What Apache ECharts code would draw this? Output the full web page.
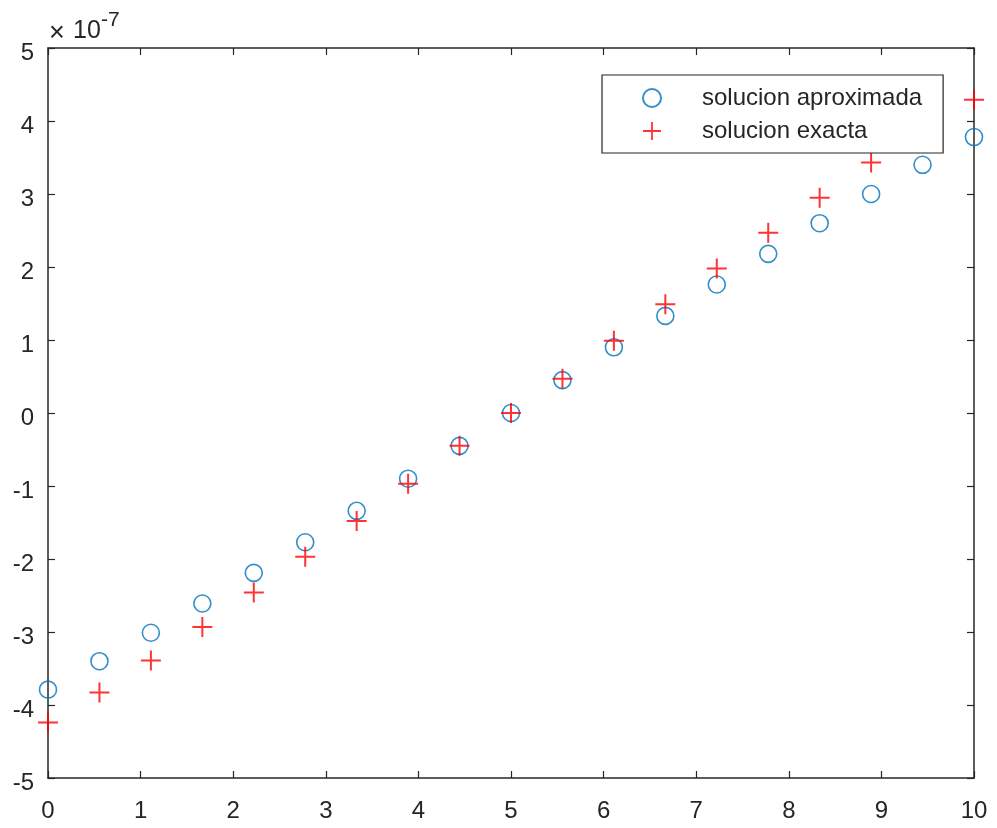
<!DOCTYPE html>
<html>
<head>
<meta charset="utf-8">
<script src="https://cdn.jsdelivr.net/npm/echarts@6/dist/echarts.min.js"></script>
<style>html,body{margin:0;padding:0;background:#fff;}#c{width:997px;height:828px;}</style>
</head>
<body>
<div id="c"></div>
<script>
// x positions (0 .. 10, 19 points)
const xValues = [0, 0.5556, 1.1111, 1.6667, 2.2222, 2.7778, 3.3333, 3.8889, 4.4444, 5, 5.5556, 6.1111, 6.6667, 7.2222, 7.7778, 8.3333, 8.8889, 9.4444, 10];
// values in units of 1e-7
const aproximada = [-3.79, -3.40, -3.01, -2.61, -2.19, -1.77, -1.34, -0.90, -0.45, 0, 0.45, 0.90, 1.33, 1.76, 2.18, 2.60, 3.00, 3.40, 3.78];
const exacta = [-4.24, -3.83, -3.39, -2.93, -2.46, -1.97, -1.48, -0.97, -0.45, 0, 0.47, 0.99, 1.49, 1.98, 2.47, 2.95, 3.43, 3.86, 4.29];
const xTicks = [0,1,2,3,4,5,6,7,8,9,10];
const yTicks = [-5,-4,-3,-2,-1,0,1,2,3,4,5];
const seriesNames = ['solucion aproximada', 'solucion exacta'];

const axisColor = '#262626';
const font = 'Liberation Sans, Arial, Helvetica, sans-serif';
const crossPath = 'path://M9,0h2v9h9v2h-9v9h-2v-9h-9v-2h9z';

const chart = echarts.init(document.getElementById('c'));
const baseX = {
  type: 'value', min: xTicks[0], max: xTicks[xTicks.length-1], interval: 1,
  axisLine: {show: true, onZero: false, lineStyle: {color: axisColor, width: 1.5}},
  axisTick: {show: true, inside: true, length: 7, lineStyle: {color: axisColor, width: 1.2}},
  splitLine: {show: false}
};
const baseY = {
  type: 'value', min: yTicks[0], max: yTicks[yTicks.length-1], interval: 1,
  axisLine: {show: true, onZero: false, lineStyle: {color: axisColor, width: 1.5}},
  axisTick: {show: true, inside: true, length: 7, lineStyle: {color: axisColor, width: 1.2}},
  splitLine: {show: false}
};
chart.setOption({
  backgroundColor: '#fff',
  animation: false,
  grid: {left: 48, right: 23, top: 48, bottom: 50},
  xAxis: [
    Object.assign({}, baseX, {position: 'bottom', axisLabel: {show: true, color: axisColor, fontSize: 24, fontFamily: font, margin: 21}}),
    Object.assign({}, baseX, {position: 'top', axisLabel: {show: false}})
  ],
  yAxis: [
    Object.assign({}, baseY, {position: 'left', axisLabel: {
      show: true, color: axisColor, fontSize: 24, fontFamily: font, margin: 14,
      formatter: v => '{a|' + v + '}',
      rich: {a: {color: axisColor, fontSize: 24, fontFamily: font, padding: [10, 0, 0, 0]}}
    }}),
    Object.assign({}, baseY, {position: 'right', axisLabel: {show: false}})
  ],
  legend: {
    orient: 'vertical',
    left: 602, top: 75,
    padding: [11, 21, 10, 40],
    itemWidth: 20, itemHeight: 18, itemGap: 9,
    backgroundColor: '#fff',
    borderColor: axisColor, borderWidth: 1.2, borderRadius: 0,
    textStyle: {color: axisColor, fontSize: 24, fontFamily: font, padding: [0, 0, 0, 35]},
    data: seriesNames
  },
  graphic: [
    {type: 'text', x: 49, y: 34, style: {text: '×', fontSize: 27, fontFamily: font, fill: axisColor, verticalAlign: 'middle'}},
    {type: 'text', x: 73, y: 31, style: {text: '10', fontSize: 25, fontFamily: font, fill: axisColor, verticalAlign: 'middle'}},
    {type: 'text', x: 101, y: 20, style: {text: '-7', fontSize: 21, fontFamily: font, fill: axisColor, verticalAlign: 'middle'}}
  ],
  series: [
    {
      name: seriesNames[0], type: 'scatter', xAxisIndex: 0, yAxisIndex: 0,
      symbol: 'circle', symbolSize: 17,
      itemStyle: {color: 'rgba(0,0,0,0)', borderColor: '#0072BD', borderWidth: 1.6},
      data: xValues.map((x, i) => [x, aproximada[i]]), z: 2
    },
    {
      name: seriesNames[1], type: 'scatter', xAxisIndex: 0, yAxisIndex: 0,
      symbol: crossPath, symbolSize: 20,
      itemStyle: {color: '#FF0000'},
      data: xValues.map((x, i) => [x, exacta[i]]), z: 3
    }
  ]
});
</script>
</body>
</html>
